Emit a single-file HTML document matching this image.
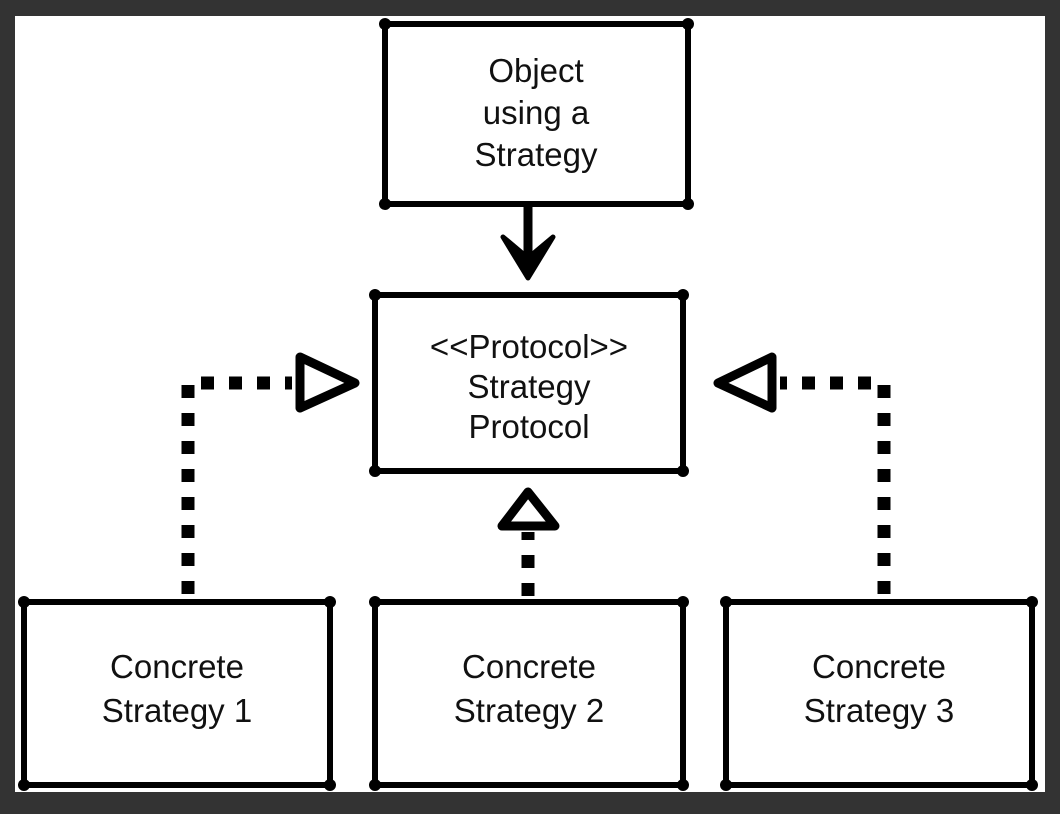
<!DOCTYPE html>
<html><head><meta charset="utf-8"><style>
html,body{margin:0;padding:0;background:#333;}
body{width:1060px;height:814px;position:relative;overflow:hidden;}
.page{position:absolute;left:15px;top:16px;width:1030px;height:776px;background:#fff;}
svg{position:absolute;left:0;top:0;}
text{font-family:"Liberation Sans Narrow","Liberation Sans",sans-serif;font-size:33px;fill:#111;text-anchor:middle;}
</style></head><body>
<div class="page"></div>
<svg width="1060" height="814" viewBox="0 0 1060 814">
<g fill="none" stroke="#000" stroke-width="6" stroke-linejoin="round">
<rect x="385" y="24" width="303" height="180"/>
<rect x="375" y="295" width="308" height="176"/>
<rect x="24" y="602" width="306" height="183"/>
<rect x="375" y="602" width="308" height="183"/>
<rect x="726" y="602" width="306" height="183"/>
</g>
<g fill="#000">
<circle cx="385" cy="24" r="6"/><circle cx="688" cy="24" r="6"/><circle cx="385" cy="204" r="6"/><circle cx="688" cy="204" r="6"/>
<circle cx="375" cy="295" r="6"/><circle cx="683" cy="295" r="6"/><circle cx="375" cy="471" r="6"/><circle cx="683" cy="471" r="6"/>
<circle cx="24" cy="602" r="6"/><circle cx="330" cy="602" r="6"/><circle cx="24" cy="785" r="6"/><circle cx="330" cy="785" r="6"/>
<circle cx="375" cy="602" r="6"/><circle cx="683" cy="602" r="6"/><circle cx="375" cy="785" r="6"/><circle cx="683" cy="785" r="6"/>
<circle cx="726" cy="602" r="6"/><circle cx="1032" cy="602" r="6"/><circle cx="726" cy="785" r="6"/><circle cx="1032" cy="785" r="6"/>
</g>
<!-- top arrow -->
<line x1="528" y1="204" x2="528" y2="272" stroke="#000" stroke-width="9"/>
<path d="M503 237 L528 278 L553 237 L528 258 Z" fill="#000" stroke="#000" stroke-width="5" stroke-linejoin="round"/>
<!-- dashes -->
<g stroke="#000" stroke-width="13" stroke-dasharray="13 15" fill="none">
<path d="M188 594 L188 383 L292 383"/>
<path d="M884 594 L884 383 L780 383"/>
<path d="M528 596 L528 532"/>
</g>
<g fill="none" stroke="#000" stroke-width="9" stroke-linejoin="round">
<path d="M300 357 L355 383 L300 408 Z"/>
<path d="M772 357 L718 383 L772 408 Z"/>
<path d="M528 492 L502 526 L555 526 Z"/>
</g>
<text x="536" y="82">Object</text>
<text x="536" y="124">using a</text>
<text x="536" y="166">Strategy</text>
<text x="529" y="358">&lt;&lt;Protocol&gt;&gt;</text>
<text x="529" y="398">Strategy</text>
<text x="529" y="438">Protocol</text>
<text x="177" y="678">Concrete</text>
<text x="177" y="722">Strategy 1</text>
<text x="529" y="678">Concrete</text>
<text x="529" y="722">Strategy 2</text>
<text x="879" y="678">Concrete</text>
<text x="879" y="722">Strategy 3</text>
</svg>
</body></html>
